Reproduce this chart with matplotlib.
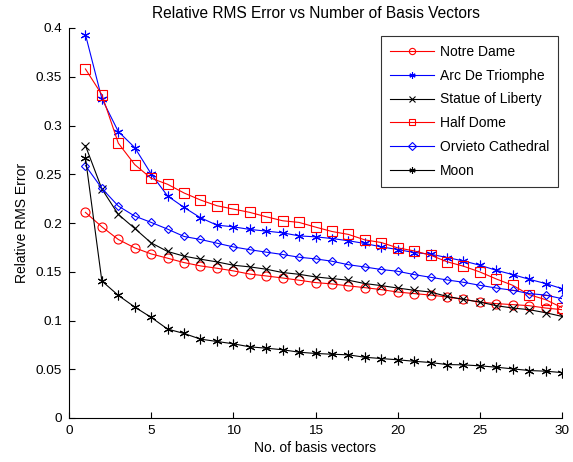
import matplotlib
matplotlib.use("Agg")
import matplotlib.pyplot as plt

plt.rcParams['font.family'] = ['Liberation Sans', 'DejaVu Sans']

x = list(range(1, 31))

notre_dame = [0.2109, 0.1961, 0.1831, 0.1745, 0.1683, 0.1639, 0.1594, 0.1560, 0.1536, 0.1509,
              0.1476, 0.1457, 0.1436, 0.1413, 0.1389, 0.1375, 0.1355, 0.1337, 0.1317, 0.1292,
              0.1276, 0.1261, 0.1241, 0.1217, 0.1189, 0.1173, 0.1163, 0.1152, 0.1128, 0.1111]
arc_de_triomphe = [0.3933, 0.3275, 0.2938, 0.2774, 0.2503, 0.2277, 0.2160, 0.2054, 0.1978, 0.1961,
                   0.1934, 0.1917, 0.1899, 0.1868, 0.1858, 0.1841, 0.1818, 0.1790, 0.1755, 0.1728,
                   0.1697, 0.1680, 0.1646, 0.1611, 0.1567, 0.1515, 0.1471, 0.1423, 0.1379, 0.1327]
statue_of_liberty = [0.2794, 0.2349, 0.2088, 0.1944, 0.1796, 0.1708, 0.1660, 0.1629, 0.1601, 0.1567,
                     0.1550, 0.1526, 0.1492, 0.1474, 0.1447, 0.1430, 0.1413, 0.1379, 0.1358, 0.1333,
                     0.1310, 0.1292, 0.1247, 0.1217, 0.1189, 0.1152, 0.1128, 0.1111, 0.1080, 0.1042]
half_dome = [0.3580, 0.3316, 0.2819, 0.2599, 0.2459, 0.2397, 0.2308, 0.2236, 0.2177, 0.2143,
             0.2109, 0.2064, 0.2023, 0.2006, 0.1958, 0.1913, 0.1883, 0.1827, 0.1800, 0.1745,
             0.1714, 0.1670, 0.1603, 0.1557, 0.1498, 0.1426, 0.1361, 0.1265, 0.1214, 0.1132]
orvieto_cathedral = [0.2589, 0.2355, 0.2174, 0.2071, 0.2006, 0.1937, 0.1862, 0.1831, 0.1793, 0.1755,
                     0.1726, 0.1701, 0.1677, 0.1649, 0.1632, 0.1608, 0.1572, 0.1549, 0.1523, 0.1505,
                     0.1471, 0.1443, 0.1416, 0.1392, 0.1361, 0.1333, 0.1310, 0.1276, 0.1261, 0.1224]
moon = [0.2670, 0.1405, 0.1258, 0.1138, 0.1032, 0.0912, 0.0867, 0.0809, 0.0785, 0.0761,
        0.0730, 0.0716, 0.0700, 0.0675, 0.0662, 0.0654, 0.0648, 0.0623, 0.0610, 0.0597,
        0.0582, 0.0569, 0.0548, 0.0545, 0.0535, 0.0521, 0.0504, 0.0487, 0.0480, 0.0466]

xticks = [0, 5, 10, 15, 20, 25, 30]
yticks = [0, 0.05, 0.1, 0.15, 0.2, 0.25, 0.3, 0.35, 0.4]
ytick_labels = ["0", "0.05", "0.1", "0.15", "0.2", "0.25", "0.3", "0.35", "0.4"]

ASTER = (6, 2, 0)
series = [
    ("Notre Dame", notre_dame, "#ff0000", "o", "none", 6.5),
    ("Arc De Triomphe", arc_de_triomphe, "#0000ff", ASTER, "#0000ff", 7),
    ("Statue of Liberty", statue_of_liberty, "#000000", "x", "#000000", 6),
    ("Half Dome", half_dome, "#ff0000", "s", "none", 6.5),
    ("Orvieto Cathedral", orvieto_cathedral, "#0000ff", "D", "none", 4.5),
    ("Moon", moon, "#000000", ASTER, "#000000", 7),
]

fig = plt.figure(figsize=(5.73, 4.62), dpi=100)
ax = fig.add_axes([69/573, 1-418/462, (562-69)/573, (418-28)/462])

for name, vals, col, mk, mfc, ms in series:
    ax.plot(x, vals, color=col, marker=mk, markerfacecolor=mfc, markeredgecolor=col,
            markersize=ms, linewidth=0.8, markeredgewidth=0.8, label=name)

ax.set_xlim(0, 30)
ax.set_ylim(0, 0.4)
ax.set_xticks(xticks)
ax.set_yticks(yticks)
ax.set_yticklabels(ytick_labels)
ax.spines['top'].set_visible(False)
ax.spines['right'].set_visible(False)
ax.tick_params(direction='in', labelsize=9.7, length=4, width=0.8, pad=5)
for s in ['left', 'bottom']:
    ax.spines[s].set_linewidth(0.8)

ax.set_title("Relative RMS Error vs Number of Basis Vectors", fontsize=11.2, pad=7)
ax.set_xlabel("No. of basis vectors", fontsize=10, labelpad=3)
ax.set_ylabel("Relative RMS Error", fontsize=10, labelpad=5)

leg = ax.legend(loc='upper right', bbox_to_anchor=((558-69)/493, (418-36)/390),
                fontsize=10, frameon=True, fancybox=False, edgecolor='black',
                handlelength=3.2, borderpad=0.65, labelspacing=0.7, handletextpad=0.4,
                borderaxespad=0)
leg.get_frame().set_linewidth(0.8)
for h in leg.legend_handles:
    h.set_markersize(4.5)

fig.savefig("out.png", dpi=100)
